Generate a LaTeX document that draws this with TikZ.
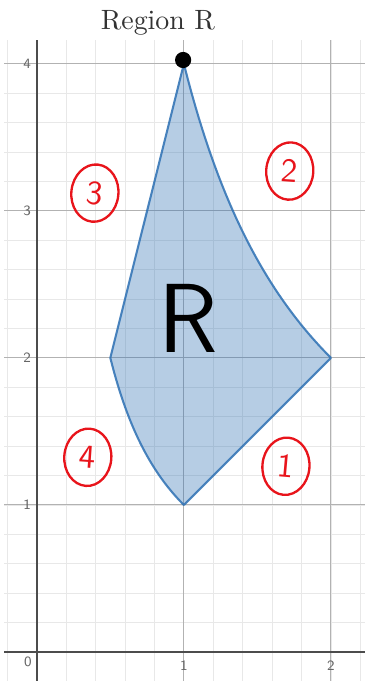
\documentclass[tikz,border=0pt]{standalone}
\usepackage{xcolor}
\usepackage{tikz}
\usetikzlibrary{shapes.geometric}

\definecolor{regionblue}{HTML}{2D70B3}
\definecolor{markred}{HTML}{E8141B}

\begin{document}
\begin{tikzpicture}[x=2cm, y=2cm,
        minorgrid/.style={draw=gray!18, line width=0.3pt},
        majorgrid/.style={draw=gray!60, line width=0.4pt},
        axisline/.style={draw=black!70, line width=0.9pt},
        ticklabel/.style={font=\fontsize{5.5}{6}\selectfont\sffamily, text=black!60, inner sep=0.5pt},
        regionfill/.style={fill=regionblue, fill opacity=0.35, draw=regionblue, draw opacity=0.85, line width=0.8pt, line join=round},
        circled/.style={ellipse, draw=markred, line width=0.9pt, text=markred, font=\fontsize{13}{13}\selectfont\sffamily, minimum width=0.64cm, minimum height=0.78cm, inner sep=0pt}]

        \useasboundingbox (-0.25,-0.197) rectangle (2.245,4.433);

        % Grid
        \draw[minorgrid, step=0.2] (-0.22,-0.2) grid (2.23,4.16);
        \foreach \gx in {1,2}
            \draw[majorgrid] (\gx,-0.2) -- (\gx,4.16);
        \foreach \gy in {1,2,3,4}
            \draw[majorgrid] (-0.22,\gy) -- (2.23,\gy);

        % Axes
        \draw[axisline] (-0.22,0) -- (2.23,0);
        \draw[axisline] (0,-0.2) -- (0,4.16);

        % Tick labels
        \node[ticklabel] (x0) at (-0.06,-0.07) {0};
        \node[ticklabel] (x1) at (1,-0.095) {1};
        \node[ticklabel] (x2) at (2,-0.095) {2};
        \foreach \gy in {1,2,3,4}
            \node[ticklabel] (y\gy) at (-0.065,\gy) {\gy};

        % Title
        \node[font=\fontsize{10.8}{11}\selectfont, text=black!80] (title) at (0.823,4.277) {Region R};

        % Region R
        \path[regionfill] (1,1) -- (2,2)
            -- plot[domain=2:1, samples=40] (\x,{4/\x})
            -- (0.5,2)
            -- plot[domain=0.5:1, samples=40] (\x,{1/\x}) -- cycle;

        % Marks
        \fill[black] (0.995,4.025) circle (0.11cm);
        \node[font=\fontsize{38}{38}\selectfont\sffamily] (rlabel) at (1.03,2.27) {R};
        \node[circled, rotate=-5] (c1) at (1.694,1.263) {1};
        \node[circled, rotate=-4] (c2) at (1.72,3.27) {2};
        \node[circled, rotate=-6] (c3) at (0.395,3.12) {3};
        \node[circled, rotate=-4] (c4) at (0.347,1.324) {4};
    \end{tikzpicture}
\end{document}
